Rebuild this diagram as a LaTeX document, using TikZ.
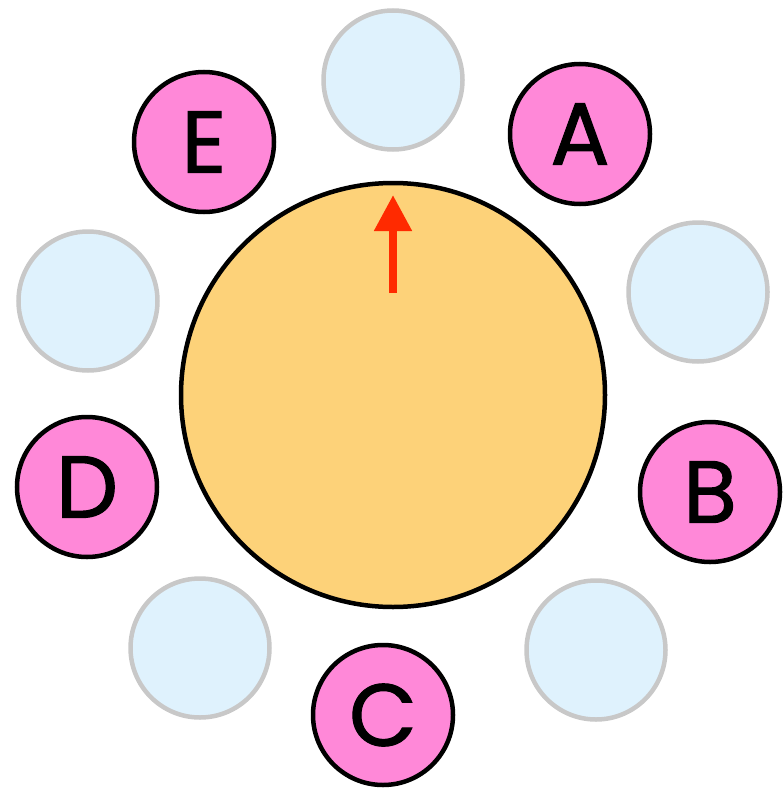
\documentclass[tikz,border=0pt]{standalone}
\usepackage{fontspec}
\setmainfont{Poppins}
\newfontfamily\letterfont[FakeBold=1.2]{Poppins}
\usetikzlibrary{arrows.meta}
\definecolor{pinkfill}{HTML}{FF88D8}
\definecolor{tablefill}{HTML}{FDD279}
\definecolor{seatfill}{HTML}{DFF2FD}
\definecolor{seatline}{HTML}{C8C8C8}
\definecolor{arrowred}{HTML}{FF2A00}
\tikzset{
  person/.style={circle, draw=black, line width=4.5pt, fill=pinkfill, minimum size=140pt, inner sep=0pt, font=\letterfont\fontsize{88}{88}\selectfont},
  seat/.style={circle, draw=seatline, line width=4.5pt, fill=seatfill, minimum size=139pt, inner sep=0pt},
  tablebox/.style={circle, draw=black, line width=4.5pt, fill=tablefill, minimum size=424pt, inner sep=0pt}
}
\begin{document}
\begin{tikzpicture}[x=1pt,y=-1pt]
\useasboundingbox (0,0) rectangle (782,789);
\node[tablebox] (table) at (393,395) {};
\node[seat] (s1) at (393,80) {};
\node[seat] (s2) at (698,292) {};
\node[seat] (s3) at (596,650) {};
\node[seat] (s4) at (200,648) {};
\node[seat] (s5) at (88,301) {};
\node[person] (A) at (580,134) {A};
\node[person] (B) at (710,492) {B};
\node[person] (C) at (383,715) {C};
\node[person] (D) at (87,487) {D};
\node[person] (E) at (204,142) {E};
\coordinate (arrowbase) at (393,293);
\coordinate (arrowtip) at (393,195);
\draw[arrowred, line width=8pt, -{Triangle[width=36pt,length=36pt]}] (arrowbase) -- (arrowtip);
\end{tikzpicture}
\end{document}
